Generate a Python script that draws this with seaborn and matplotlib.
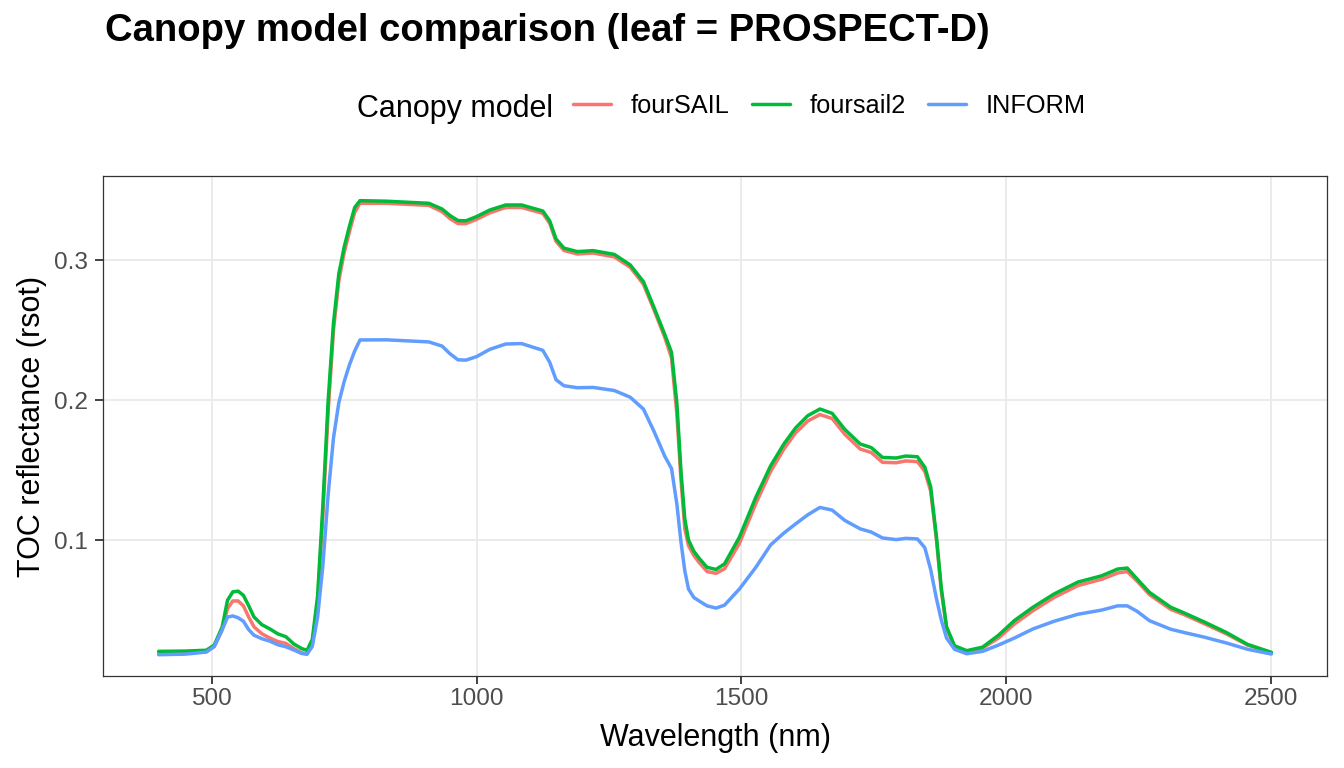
import numpy as np
import pandas as pd
import matplotlib
matplotlib.use("Agg")
import matplotlib.pyplot as plt
import seaborn as sns

# === Values (wavelength in nm, reflectance) ===
wavelength = [
    400, 450, 490, 505, 520, 530, 540, 550, 560, 570, 580, 595, 610, 625, 640,
    655, 670, 680, 690, 700, 710, 720, 730, 740, 750, 760, 770, 780, 830, 910,
    935, 950, 965, 980, 1000, 1025, 1055, 1085, 1125, 1138, 1150, 1165, 1190,
    1220, 1260, 1290, 1315, 1335, 1355, 1368, 1378, 1386, 1393, 1400, 1410,
    1420, 1435, 1452, 1468, 1496, 1527, 1555, 1580, 1602, 1625, 1648, 1671,
    1695, 1724, 1745, 1766, 1792, 1810, 1832, 1846, 1857, 1868, 1877, 1887,
    1902, 1925, 1955, 1985, 2015, 2050, 2090, 2135, 2180, 2210, 2228, 2247,
    2270, 2310, 2335, 2375, 2415, 2455, 2500,
]

foursail = [
    0.0190, 0.0193, 0.0203, 0.0240, 0.0360, 0.0510, 0.0565, 0.0565, 0.0530,
    0.0450, 0.0380, 0.0330, 0.0300, 0.0275, 0.0262, 0.0225, 0.0195, 0.0185,
    0.0260, 0.0550, 0.1180, 0.1920, 0.2500, 0.2850, 0.3050, 0.3200, 0.3340,
    0.3405, 0.3405, 0.3390, 0.3345, 0.3295, 0.3260, 0.3260, 0.3290, 0.3337,
    0.3375, 0.3375, 0.3333, 0.3263, 0.3133, 0.3068, 0.3043, 0.3050, 0.3022,
    0.2948, 0.2827, 0.2642, 0.2450, 0.2300, 0.1900, 0.1420, 0.1080, 0.0960,
    0.0890, 0.0840, 0.0775, 0.0762, 0.0795, 0.0975, 0.1260, 0.1490, 0.1650,
    0.1765, 0.1850, 0.1896, 0.1868, 0.1755, 0.1650, 0.1625, 0.1555, 0.1552,
    0.1565, 0.1560, 0.1490, 0.1350, 0.1000, 0.0640, 0.0370, 0.0238, 0.0205,
    0.0228, 0.0300, 0.0400, 0.0495, 0.0590, 0.0675, 0.0720, 0.0765, 0.0775,
    0.0705, 0.0610, 0.0505, 0.0468, 0.0400, 0.0330, 0.0250, 0.0195,
]

foursail2 = [
    0.0205, 0.0207, 0.0213, 0.0250, 0.0380, 0.0570, 0.0630, 0.0635, 0.0605,
    0.0530, 0.0450, 0.0395, 0.0365, 0.0330, 0.0310, 0.0258, 0.0225, 0.0212,
    0.0290, 0.0600, 0.1250, 0.2000, 0.2550, 0.2900, 0.3090, 0.3240, 0.3375,
    0.3424, 0.3420, 0.3405, 0.3364, 0.3317, 0.3282, 0.3280, 0.3310, 0.3357,
    0.3393, 0.3393, 0.3350, 0.3280, 0.3150, 0.3085, 0.3060, 0.3067, 0.3040,
    0.2965, 0.2845, 0.2660, 0.2470, 0.2340, 0.1980, 0.1480, 0.1150, 0.1000,
    0.0920, 0.0870, 0.0805, 0.0790, 0.0830, 0.1020, 0.1305, 0.1530, 0.1686,
    0.1800, 0.1888, 0.1936, 0.1905, 0.1790, 0.1686, 0.1660, 0.1590, 0.1586,
    0.1600, 0.1595, 0.1520, 0.1380, 0.1020, 0.0660, 0.0380, 0.0245, 0.0210,
    0.0235, 0.0320, 0.0425, 0.0520, 0.0615, 0.0700, 0.0745, 0.0793, 0.0800,
    0.0720, 0.0626, 0.0520, 0.0480, 0.0412, 0.0340, 0.0255, 0.0198,
]

inform = [
    0.0181, 0.0185, 0.0200, 0.0240, 0.0360, 0.0450, 0.0458, 0.0445, 0.0420,
    0.0360, 0.0320, 0.0295, 0.0278, 0.0252, 0.0238, 0.0215, 0.0190, 0.0185,
    0.0240, 0.0450, 0.0820, 0.1330, 0.1730, 0.1980, 0.2130, 0.2250, 0.2350,
    0.2429, 0.2430, 0.2415, 0.2385, 0.2330, 0.2287, 0.2285, 0.2310, 0.2362,
    0.2400, 0.2403, 0.2355, 0.2270, 0.2145, 0.2102, 0.2088, 0.2090, 0.2068,
    0.2020, 0.1935, 0.1775, 0.1600, 0.1510, 0.1257, 0.0980, 0.0780, 0.0650,
    0.0590, 0.0565, 0.0530, 0.0514, 0.0535, 0.0650, 0.0805, 0.0965, 0.1050,
    0.1115, 0.1180, 0.1233, 0.1214, 0.1140, 0.1080, 0.1057, 0.1015, 0.1003,
    0.1012, 0.1008, 0.0945, 0.0790, 0.0580, 0.0430, 0.0300, 0.0220, 0.0188,
    0.0205, 0.0250, 0.0300, 0.0365, 0.0420, 0.0470, 0.0500, 0.0530, 0.0530,
    0.0490, 0.0424, 0.0363, 0.0340, 0.0305, 0.0265, 0.0220, 0.0186,
]

models = ["fourSAIL", "foursail2", "INFORM"]
colors = ["#F8766D", "#00BA38", "#619CFF"]

df = pd.concat([
    pd.DataFrame({"wavelength": wavelength, "rsot": vals, "model": name})
    for name, vals in zip(models, [foursail, foursail2, inform])
], ignore_index=True)

# === Style (ggplot theme_bw look) ===
sns.set_theme(style="white")
plt.rcParams["font.family"] = ["Liberation Sans", "DejaVu Sans"]

W, H = 1344, 768
fig = plt.figure(figsize=(W / 100, H / 100), dpi=100)
ax = fig.add_axes([103 / W, 1 - 676 / H, (1327 - 103) / W, 500 / H])

sns.lineplot(data=df, x="wavelength", y="rsot", hue="model", hue_order=models,
             palette=colors, linewidth=2.5, sort=False, legend=False, ax=ax)
for ln in ax.get_lines():
    ln.set_solid_joinstyle("round")

ax.set_xlim(295, 2605)
ax.set_ylim(0.0029, 0.36)
ax.set_xticks([500, 1000, 1500, 2000, 2500])
ax.set_yticks([0.1, 0.2, 0.3])
ax.set_yticklabels(["0.1", "0.2", "0.3"])
ax.grid(True, color="#EBEBEB", linewidth=1.4)
ax.set_axisbelow(True)
for s in ax.spines.values():
    s.set_color("#333333")
    s.set_linewidth(0.9)
ax.tick_params(axis="both", which="major", length=5.5, width=1.3,
               color="#333333", labelcolor="#4D4D4D", labelsize=17.6,
               bottom=True, left=True)
ax.tick_params(axis="x", pad=3)
ax.tick_params(axis="y", pad=5)
ax.set_xlabel("")
ax.set_ylabel("")

# axis titles
fig.text(716 / W, 1 - 746 / H, "Wavelength (nm)", fontsize=22,
         ha="center", va="baseline", color="black")
fig.text(32 / W, 1 - 426 / H, "TOC reflectance (rsot)", fontsize=22,
         ha="center", va="center", rotation=90, color="black")

# title
fig.text(105 / W, 1 - 41 / H, "Canopy model comparison (leaf = PROSPECT-D)",
         fontsize=27.5, fontweight="bold", ha="left", va="baseline", color="black")

# legend on top, title inline
fig.text(357 / W, 1 - 116.7 / H, "Canopy model", fontsize=22,
         ha="left", va="baseline", color="black")
handles = ax.get_lines()[:3]
fs = 18.3
px = fs * 100 / 72
fig.legend(handles, models, loc="center left",
           bbox_to_anchor=(573 / W, 1 - 106 / H), ncol=3, frameon=False,
           fontsize=fs, handlelength=38 / px, handletextpad=20 / px,
           columnspacing=22 / px, borderpad=0, borderaxespad=0,
           labelcolor="black")

fig.savefig("out.png", dpi=100)
